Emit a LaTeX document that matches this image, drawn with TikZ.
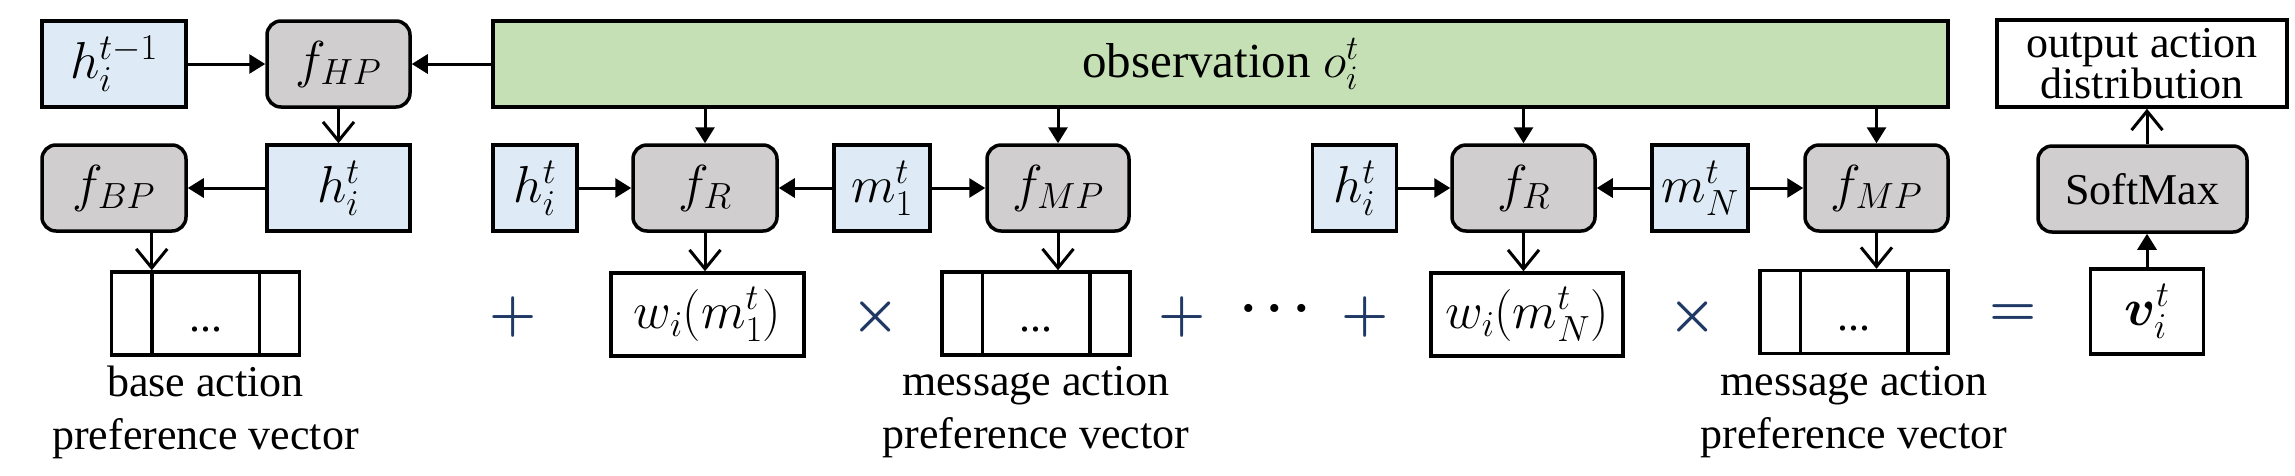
\RequirePackage{fix-cm}
\documentclass[tikz,border=0pt]{standalone}
\usepackage{bm}
\usepackage{fontspec}
\setmainfont{Liberation Serif}
\usetikzlibrary{arrows.meta}
\definecolor{lblue}{HTML}{DEEBF7}
\definecolor{lgray}{HTML}{D0CECE}
\definecolor{lgreen}{HTML}{C5E0B4}
\definecolor{opnavy}{HTML}{1F3864}
\newcommand{\lblfont}{\fontsize{44}{53}\selectfont}
\newcommand{\outfont}{\fontsize{44}{41}\selectfont}
\newcommand{\mthfont}{\fontsize{52}{60}\selectfont}
\newcommand{\obsfont}{\fontsize{49}{56}\selectfont}
\newcommand{\opfont}{\fontsize{54}{60}\selectfont}
\tikzset{
  basebox/.style={draw, line width=3.5pt, inner sep=0pt, minimum height=86pt, font=\mthfont},
  hbox/.style={basebox, fill=lblue},
  fbox/.style={basebox, fill=lgray, rounded corners=14pt},
  wbox/.style={basebox, fill=white},
  obsbox/.style={basebox, fill=lgreen, font=\obsfont},
  vecbox/.style={draw, line width=3.5pt, inner sep=0pt, minimum width=188pt, minimum height=83pt},
  divline/.style={line width=3.5pt},
  vdots/.style={inner sep=0pt, font=\lblfont, anchor=base},
  opsym/.style={inner sep=0pt, text=opnavy, font=\opfont},
  lab/.style={inner sep=0pt, align=center, font=\lblfont, anchor=north},
  fa/.style={-{Triangle[length=16pt,width=19pt]}, line width=3pt},
  oa/.style={-{Straight Barb[length=19pt,width=31pt,line width=3pt]}, line width=3pt},
}
\begin{document}
\begin{tikzpicture}[x=1pt,y=-1pt]
\useasboundingbox (0,0) rectangle (2295,475);
% top row
\node[hbox, minimum width=144pt] (hprev) at (114,64) {$h_i^{t-1}$};
\node[fbox, minimum width=143pt] (fhp) at (338.5,64) {$f_{HP}$};
\node[obsbox, minimum width=1455pt] (obs) at (1220.5,64) {observation $o_i^t$};
\node[wbox, minimum width=290pt, minimum height=87pt, align=center, font=\outfont] (out) at (2142,63.5) {output action\\distribution};
% middle row
\node[fbox, minimum width=144pt] (fbp) at (114,188) {$f_{BP}$};
\node[hbox, minimum width=143pt] (ht0) at (338.5,188) {$h_i^t$};
\node[hbox, minimum width=84pt] (h1) at (535,188) {$h_i^t$};
\node[fbox, minimum width=144pt] (fr1) at (705,188) {$f_R$};
\node[hbox, minimum width=96pt] (m1) at (882,188) {$m_1^t$};
\node[fbox, minimum width=142pt] (fmp1) at (1058,188) {$f_{MP}$};
\node[hbox, minimum width=84pt] (h2) at (1354.5,188) {$h_i^t$};
\node[fbox, minimum width=143pt] (fr2) at (1523.5,188) {$f_R$};
\node[hbox, minimum width=96pt] (mN) at (1700,188) {$m_N^t$};
\node[fbox, minimum width=143pt] (fmp2) at (1876.5,188) {$f_{MP}$};
\node[fbox, minimum width=209pt, font=\lblfont] (soft) at (2142.5,189) {SoftMax};
% bottom row
\node[vecbox] (bvec) at (205.5,313.5) {};
\node[wbox, minimum width=193pt, minimum height=83pt] (w1) at (707.5,314.5) {$w_i(m_1^t)$};
\node[vecbox] (vec1) at (1036,313.5) {};
\node[wbox, minimum width=192pt, minimum height=83pt] (w2) at (1527,314.5) {$w_i(m_N^t)$};
\node[vecbox] (vec2) at (1854,312) {};
\node[wbox, minimum width=113pt, minimum height=85pt] (v) at (2147,311.5) {$\bm{v}_i^t$};
% vector dividers and dots
\foreach \vv in {bvec,vec1,vec2}{
  \draw[divline] ([xshift=42pt]\vv.north west) -- ([xshift=42pt]\vv.south west);
  \draw[divline] ([xshift=-42pt]\vv.north east) -- ([xshift=-42pt]\vv.south east);
}
\node[vdots] (bdots) at (205.5,331) {...};
\node[vdots] (dots1) at (1036,331) {...};
\node[vdots] (dots2) at (1854,330) {...};
% operators
\node[opsym] (plus1) at (513,317) {$\bm{+}$};
\node[opsym] (times1) at (876,317) {$\bm{\times}$};
\node[opsym] (plus2) at (1182,317) {$\bm{+}$};
\node[inner sep=0pt, font=\mthfont, anchor=base] (cdots) at (1275,321) {$\bm{\cdots}$};
\node[opsym] (plus3) at (1365,317) {$\bm{+}$};
\node[opsym] (times2) at (1693,317) {$\bm{\times}$};
\node[opsym] (eq) at (2013,315) {$\bm{=}$};
% labels
\node[lab] (blab) at (205.5,366) {base action\\preference vector};
\node[lab] (mlab1) at (1036,366) {message action\\preference vector};
\node[lab] (mlab2) at (1854,366) {message action\\preference vector};
% arrows
\coordinate (bdiv) at ([xshift=42pt]bvec.north west);
\draw[fa] (hprev) -- (fhp);
\draw[fa] (obs) -- (fhp);
\draw[oa] (fhp) -- (ht0);
\draw[fa] (ht0) -- (fbp);
\draw[oa] (fbp.south -| bdiv) -- (bdiv);
\draw[fa] (obs.south -| fr1) -- (fr1);
\draw[fa] (obs.south -| fmp1) -- (fmp1);
\draw[fa] (h1) -- (fr1);
\draw[fa] (m1) -- (fr1);
\draw[fa] (m1) -- (fmp1);
\draw[oa] (fr1) -- (fr1 |- w1.north);
\draw[oa] (fmp1) -- (fmp1 |- vec1.north);
\draw[fa] (obs.south -| fr2) -- (fr2);
\draw[fa] (obs.south -| fmp2) -- (fmp2);
\draw[fa] (h2) -- (fr2);
\draw[fa] (mN) -- (fr2);
\draw[fa] (mN) -- (fmp2);
\draw[oa] (fr2) -- (fr2 |- w2.north);
\draw[oa] (fmp2) -- (fmp2 |- vec2.north);
\draw[fa] (v) -- (v |- soft.south);
\draw[oa] (soft.north -| v) -- (out.south -| v);
\end{tikzpicture}
\end{document}
